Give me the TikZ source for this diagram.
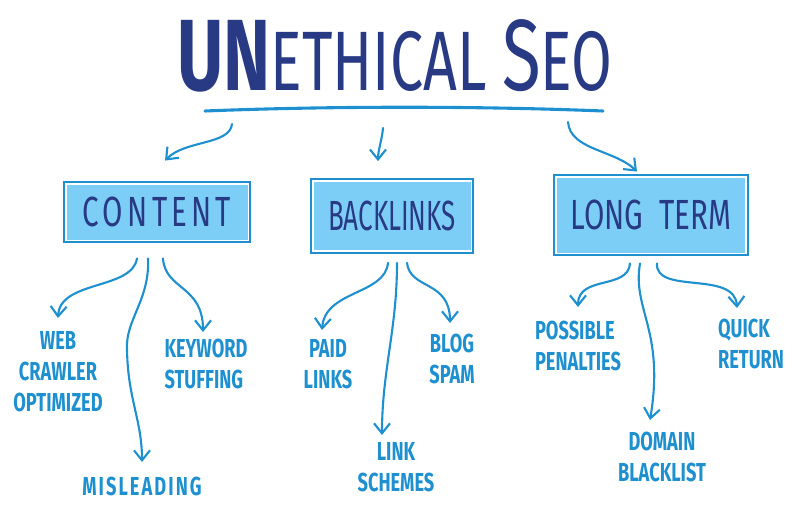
\documentclass[tikz,border=0pt]{standalone}
\usepackage{fontspec}
\newfontfamily\hand{Fira Sans}[FakeStretch=0.7]
\usetikzlibrary{arrows.meta}
\definecolor{navy}{RGB}{40,58,132}
\definecolor{inkblue}{RGB}{30,144,208}
\definecolor{boxfill}{RGB}{125,206,246}

\begin{document}
\begin{tikzpicture}[x=0.025cm, y=-0.025cm,
  topic/.style={rectangle, draw=white, fill=boxfill, line width=0.6pt, inner sep=0pt, text=navy, font=\hand\fontsize{30}{34}\selectfont},
  leaf/.style={inner sep=0pt, anchor=north, align=center, text=inkblue, font=\hand\bfseries\fontsize{18.5}{22}\selectfont},
  arr/.style={-{Straight Barb[length=2.5mm, width=4mm]}, inkblue, line width=1.5pt, line cap=round},
]
  \useasboundingbox (0,0) rectangle (800,519);

  % title and rule
  \node[text=navy, anchor=base, font=\hand\fontsize{60}{60}\selectfont] (title) at (395,90)
    {{\bfseries\fontsize{72}{72}\selectfont UN}ETHICAL {\fontsize{72}{72}\selectfont S}EO};
  \draw[inkblue, line width=2.2pt, line cap=round] (205,111) .. controls (330,106) and (480,106) .. (603,111);
  \coordinate (r1) at (232,124);
  \coordinate (r2) at (383,128);
  \coordinate (r3) at (568,122);

  % topics
  \node[topic, minimum width=4.55cm, minimum height=1.4cm] (content) at (157,212)
    {\addfontfeature{LetterSpace=10}CONTENT};
  \node[topic, minimum width=3.95cm, minimum height=1.72cm] (backlinks) at (392,216)
    {\scalebox{0.88}[1]{BACKLINKS}};
  \node[topic, minimum width=4.72cm, minimum height=1.9cm] (longterm) at (651,215) {LONG \ TERM};
  \foreach \n in {content, backlinks, longterm}
    \draw[inkblue, line width=1.4pt] ([shift={(-1.8,-1.8)}]\n.north west) rectangle ([shift={(1.8,1.8)}]\n.south east);

  \draw[arr] (r1) .. controls (230,145) and (185,140) .. ([shift={(8,-23)}]content.north);
  \draw[arr] (r2) .. controls (382,140) and (378,150) .. ([shift={(-14,-20)}]backlinks.north);
  \draw[arr] (r3) .. controls (570,150) and (615,150) .. ([shift={(-14,-5)}]longterm.north);

  % leaves
  \node[leaf] (web) at (58,331) {WEB\\CRAWLER\\OPTIMIZED};
  \node[leaf, align=left] (keyword) at (206,339) {KEYWORD\\STUFFING};
  \node[leaf] (misleading) at (142,477) {\addfontfeature{LetterSpace=8}MISLEADING};
  \node[leaf] (paid) at (328,339) {PAID\\LINKS};
  \node[leaf] (blog) at (452,334) {BLOG\\SPAM};
  \node[leaf] (link) at (396,442) {LINK\\SCHEMES};
  \node[leaf, align=left] (possible) at (578,321) {POSSIBLE\\PENALTIES};
  \node[leaf, align=left] (quick) at (751,319) {QUICK\\RETURN};
  \node[leaf] (domain) at (662,432) {DOMAIN\\BLACKLIST};

  \draw[arr] ([shift={(-20,18)}]content.south) .. controls (132,290) and (60,280) .. ([shift={(0,-13)}]web.north);
  \draw[arr] ([shift={(-9,18)}]content.south) .. controls (150,300) and (125,320) .. (127,350)
    .. controls (128,400) and (142,420) .. ([shift={(0,-15)}]misleading.north);
  \draw[arr] ([shift={(6,18)}]content.south) .. controls (165,290) and (203,285) .. ([shift={(-3,-7)}]keyword.north);

  \draw[arr] ([shift={(-4,12)}]backlinks.south) .. controls (385,295) and (325,290) .. ([shift={(-6,-9)}]paid.north);
  \draw[arr] ([shift={(5,12)}]backlinks.south) .. controls (397,330) and (382,370) .. ([shift={(-14,-7)}]link.north);
  \draw[arr] ([shift={(15,12)}]backlinks.south) .. controls (410,290) and (450,280) .. ([shift={(-2,-11)}]blog.north);

  \draw[arr] ([shift={(-21,10)}]longterm.south) .. controls (628,290) and (578,275) .. ([shift={(0,-14)}]possible.north);
  \draw[arr] ([shift={(-11,10)}]longterm.south) .. controls (632,310) and (665,330) .. ([shift={(-12,-12)}]domain.north);
  \draw[arr] ([shift={(6,10)}]longterm.south) .. controls (655,295) and (735,270) .. ([shift={(-14,-11)}]quick.north);
\end{tikzpicture}
\end{document}
